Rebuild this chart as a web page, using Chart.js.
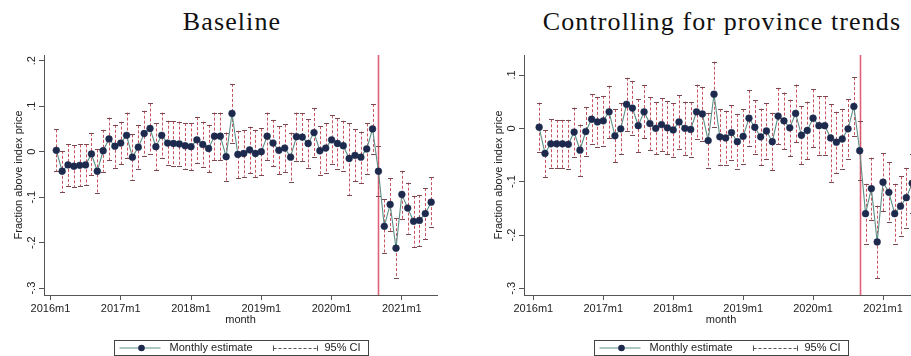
<!DOCTYPE html>
<html>
<head>
<meta charset="utf-8">
<script src="https://cdn.jsdelivr.net/npm/chart.js@4.4.1/dist/chart.umd.min.js"></script>
<style>
  html, body { margin: 0; padding: 0; background: #fff; }
  #wrap { position: relative; width: 911px; height: 356px; overflow: hidden; background: #fff; }
  .panel { position: absolute; top: 0; height: 356px; }
  .panel h2 {
    position: absolute; top: 8px; left: 0; right: 0; margin: 0;
    font: normal 26px "Liberation Serif", "Times New Roman", serif; line-height: 28px;
    letter-spacing: 1.1px;
    text-align: center; color: #111;
  }
  .panel canvas { position: absolute; left: 0; top: 0; }
</style>
</head>
<body>
<div id="wrap">
  <div class="panel" style="left:0;width:464px">
    <h2>Baseline</h2>
    <canvas id="baseChart" width="464" height="356"></canvas>
  </div>
  <div class="panel" style="left:480px;width:484px">
    <h2>Controlling for province trends</h2>
    <canvas id="provChart" width="484" height="356"></canvas>
  </div>
</div>
<script>
// months covered by the estimates
const months = [
  '2016m2','2016m3','2016m4','2016m5','2016m6','2016m7','2016m8','2016m9','2016m10','2016m11','2016m12',
  '2017m1','2017m2','2017m3','2017m4','2017m5','2017m6','2017m7','2017m8','2017m9','2017m10','2017m11','2017m12',
  '2018m1','2018m2','2018m3','2018m4','2018m5','2018m6','2018m7','2018m8','2018m9','2018m10','2018m11','2018m12',
  '2019m1','2019m2','2019m3','2019m4','2019m5','2019m6','2019m7','2019m8','2019m9','2019m10','2019m11','2019m12',
  '2020m1','2020m2','2020m3','2020m4','2020m5','2020m6','2020m7','2020m8','2020m9','2020m10','2020m11','2020m12',
  '2021m1','2021m2','2021m3','2021m4','2021m5','2021m6'
];
const xTickLabels = ['2016m1', '2017m1', '2018m1', '2019m1', '2020m1', '2021m1'];
const treatMonth = '2020m9';

// Baseline
const baseEst = [
  0.003, -0.043, -0.029, -0.032, -0.030, -0.029, -0.005, -0.043, 0.002, 0.028, 0.012,
  0.019, 0.036, -0.012, 0.010, 0.040, 0.051, 0.011, 0.036, 0.019, 0.018, 0.017, 0.013,
  0.011, 0.026, 0.016, 0.007, 0.034, 0.034, -0.011, 0.084, -0.006, -0.004, 0.004, -0.004,
  0.000, 0.034, 0.019, 0.003, 0.008, -0.012, 0.033, 0.032, 0.018, 0.042, 0.002, 0.008,
  0.026, 0.018, 0.013, -0.015, -0.008, -0.012, 0.006, 0.050, -0.043, -0.164, -0.116, -0.212,
  -0.094, -0.124, -0.153, -0.151, -0.136, -0.111
];
const baseLo = [
  -0.043, -0.088, -0.075, -0.078, -0.076, -0.074, -0.051, -0.091, -0.044, -0.019, -0.035,
  -0.028, -0.014, -0.062, -0.038, -0.010, -0.004, -0.040, -0.014, -0.030, -0.031, -0.032, -0.037,
  -0.040, -0.024, -0.034, -0.045, -0.018, -0.018, -0.064, 0.019, -0.058, -0.055, -0.047, -0.056,
  -0.051, -0.018, -0.032, -0.050, -0.044, -0.066, -0.020, -0.021, -0.035, -0.012, -0.052, -0.046,
  -0.028, -0.037, -0.042, -0.095, -0.065, -0.068, -0.050, -0.005, -0.098, -0.223, -0.174, -0.278,
  -0.148, -0.180, -0.209, -0.207, -0.192, -0.166
];
const baseHi = [
  0.049, 0.002, 0.017, 0.014, 0.016, 0.016, 0.041, 0.005, 0.048, 0.075, 0.059,
  0.066, 0.086, 0.038, 0.058, 0.090, 0.106, 0.062, 0.086, 0.068, 0.067, 0.066, 0.063,
  0.062, 0.076, 0.066, 0.059, 0.086, 0.086, 0.042, 0.149, 0.046, 0.047, 0.055, 0.048,
  0.051, 0.086, 0.070, 0.056, 0.060, 0.042, 0.086, 0.085, 0.071, 0.096, 0.056, 0.062,
  0.080, 0.073, 0.068, 0.062, 0.049, 0.044, 0.062, 0.105, 0.012, -0.105, -0.058, -0.146,
  -0.042, -0.068, -0.097, -0.095, -0.080, -0.056
];
const baseYTicks = [-0.3, -0.2, -0.1, 0, 0.1, 0.2];
const baseYLabels = ['-.3', '-.2', '-.1', '0', '.1', '.2'];

// Controlling for province trends
const provEst = [
  0.002, -0.047, -0.029, -0.029, -0.029, -0.030, -0.007, -0.041, -0.006, 0.017, 0.012,
  0.014, 0.031, -0.014, -0.001, 0.045, 0.038, 0.005, 0.031, 0.009, 0.000, 0.007, 0.001,
  -0.003, 0.012, 0.000, -0.002, 0.031, 0.027, -0.023, 0.064, -0.016, -0.018, -0.008, -0.025,
  -0.015, 0.019, 0.002, -0.016, -0.005, -0.025, 0.023, 0.014, 0.001, 0.028, -0.013, -0.004,
  0.019, 0.005, 0.005, -0.018, -0.026, -0.020, -0.001, 0.041, -0.042, -0.160, -0.113, -0.213,
  -0.101, -0.120, -0.160, -0.146, -0.130, -0.103
];
const provLo = [
  -0.044, -0.091, -0.075, -0.074, -0.074, -0.076, -0.053, -0.089, -0.052, -0.030, -0.035,
  -0.033, -0.018, -0.064, -0.049, -0.005, -0.013, -0.045, -0.019, -0.040, -0.049, -0.042, -0.049,
  -0.053, -0.038, -0.050, -0.053, -0.020, -0.024, -0.075, 0.003, -0.068, -0.069, -0.059, -0.077,
  -0.066, -0.033, -0.049, -0.069, -0.057, -0.079, -0.030, -0.039, -0.052, -0.026, -0.067, -0.058,
  -0.035, -0.050, -0.050, -0.100, -0.083, -0.076, -0.057, -0.014, -0.097, -0.216, -0.171, -0.281,
  -0.155, -0.176, -0.216, -0.202, -0.186, -0.158
];
const provHi = [
  0.048, -0.003, 0.017, 0.016, 0.016, 0.016, 0.039, 0.007, 0.040, 0.064, 0.059,
  0.061, 0.080, 0.036, 0.047, 0.095, 0.089, 0.055, 0.081, 0.058, 0.049, 0.056, 0.051,
  0.047, 0.062, 0.050, 0.049, 0.082, 0.078, 0.029, 0.125, 0.036, 0.033, 0.043, 0.027,
  0.036, 0.071, 0.053, 0.037, 0.047, 0.029, 0.076, 0.067, 0.054, 0.082, 0.041, 0.050,
  0.073, 0.060, 0.060, 0.045, 0.031, 0.036, 0.055, 0.096, 0.013, -0.104, -0.055, -0.145,
  -0.047, -0.064, -0.104, -0.090, -0.074, -0.048
];
const provYTicks = [-0.3, -0.2, -0.1, 0, 0.1];
const provYLabels = ['-.3', '-.2', '-.1', '0', '.1'];

const FONT = '"Liberation Sans", Arial, sans-serif';
const TEXT = '#222';
const AXIS = '#555';
const LINE = '#5b8f86';
const MARKER = '#1d2a4e';
const CI = '#c9525f';
const CAP = '#7a4a52';
const TREAT = '#e2607a';

function monthIndex(s) {
    const parts = s.split('m');
    return (Number(parts[0]) - 2016) * 12 + (Number(parts[1]) - 1);
}

const ciPlugin = {
    id: 'ciBars',
    beforeDatasetsDraw(chart, args, opts) {
        const {ctx, scales: {x, y}, chartArea} = chart;
        ctx.save();
        // treatment date
        const tx = Math.round(x.getPixelForValue(monthIndex(treatMonth))) + 0.5;
        ctx.strokeStyle = TREAT;
        ctx.lineWidth = 1.6;
        ctx.beginPath();
        ctx.moveTo(tx, chartArea.top);
        ctx.lineTo(tx, chartArea.bottom);
        ctx.stroke();

        ctx.lineWidth = 1;
        opts.lo.forEach((lo, i) => {
            const px = Math.round(x.getPixelForValue(monthIndex(months[i]))) + 0.5;
            const yLo = y.getPixelForValue(lo);
            const yHi = y.getPixelForValue(opts.hi[i]);
            ctx.strokeStyle = CI;
            ctx.setLineDash([3, 2]);
            ctx.beginPath();
            ctx.moveTo(px, yHi);
            ctx.lineTo(px, yLo);
            ctx.stroke();
            ctx.setLineDash([]);
            ctx.strokeStyle = CAP;
            ctx.beginPath();
            ctx.moveTo(px - 2.5, Math.round(yHi) + 0.5);
            ctx.lineTo(px + 2.5, Math.round(yHi) + 0.5);
            ctx.moveTo(px - 2.5, Math.round(yLo) + 0.5);
            ctx.lineTo(px + 2.5, Math.round(yLo) + 0.5);
            ctx.stroke();
        });
        ctx.restore();
    }
};

const stataPlugin = {
    id: 'stataBits',
    afterDraw(chart, args, opts) {
        const {ctx, scales: {y}, chartArea} = chart;
        ctx.save();
        // rotated y tick labels
        ctx.fillStyle = TEXT;
        ctx.font = '11px ' + FONT;
        ctx.textAlign = 'center';
        ctx.textBaseline = 'middle';
        opts.yTicks.forEach((v, i) => {
            ctx.save();
            ctx.translate(y.right - 12, y.getPixelForValue(v));
            ctx.rotate(-Math.PI / 2);
            ctx.fillText(opts.yLabels[i], 0, 0);
            ctx.restore();
        });

        // legend
        const cx = (chartArea.left + chartArea.right) / 2;
        const bx = Math.round(cx - 127) + 0.5;
        const by = 340.5;
        const midY = 348;
        ctx.strokeStyle = '#444';
        ctx.lineWidth = 1;
        ctx.strokeRect(bx, by, 254, 15);

        ctx.strokeStyle = LINE;
        ctx.beginPath();
        ctx.moveTo(bx + 5, midY);
        ctx.lineTo(bx + 46, midY);
        ctx.stroke();
        ctx.fillStyle = MARKER;
        ctx.beginPath();
        ctx.arc(bx + 27, midY, 3.3, 0, Math.PI * 2);
        ctx.fill();

        ctx.strokeStyle = '#555';
        ctx.setLineDash([3, 2]);
        ctx.beginPath();
        ctx.moveTo(bx + 159, midY + 0.5);
        ctx.lineTo(bx + 203, midY + 0.5);
        ctx.stroke();
        ctx.setLineDash([]);
        ctx.beginPath();
        ctx.moveTo(bx + 159, midY - 2.5);
        ctx.lineTo(bx + 159, midY + 3);
        ctx.moveTo(bx + 203, midY - 2.5);
        ctx.lineTo(bx + 203, midY + 3);
        ctx.stroke();

        ctx.fillStyle = TEXT;
        ctx.textAlign = 'left';
        ctx.textBaseline = 'middle';
        ctx.fillText('Monthly estimate', bx + 55, midY);
        ctx.fillText('95% CI', bx + 210, midY);
        ctx.restore();
    }
};

function makeChart(id, est, lo, hi, yTicks, yLabels, yMin, yMax, xMin, padRight) {
    const ctx = document.getElementById(id).getContext('2d');
    return new Chart(ctx, {
        type: 'line',
        data: {
            datasets: [{
                label: 'Monthly estimate',
                data: est.map((v, i) => ({x: monthIndex(months[i]), y: v})),
                borderColor: LINE,
                borderWidth: 1.1,
                pointRadius: 3.4,
                pointBackgroundColor: MARKER,
                pointBorderColor: MARKER,
                pointBorderWidth: 0.5,
                tension: 0
            }]
        },
        options: {
            responsive: false,
            animation: false,
            layout: {
                padding: {top: 55, right: padRight, bottom: 29, left: 0}
            },
            plugins: {
                legend: {display: false},
                tooltip: {enabled: false},
                ciBars: {lo: lo, hi: hi},
                stataBits: {yTicks: yTicks, yLabels: yLabels}
            },
            scales: {
                x: {
                    type: 'linear',
                    min: xMin,
                    max: 66,
                    afterBuildTicks: (scale) => {
                        scale.ticks = xTickLabels.map(s => ({value: monthIndex(s)}));
                    },
                    afterFit: (scale) => { scale.height = 32; },
                    ticks: {
                        autoSkip: false,
                        maxRotation: 0,
                        padding: 2,
                        color: TEXT,
                        font: {family: FONT, size: 11},
                        callback: (v) => xTickLabels.find(s => monthIndex(s) === v) || ''
                    },
                    grid: {display: true, drawOnChartArea: false, drawTicks: true, tickLength: 5, color: AXIS},
                    border: {display: true, color: AXIS, width: 1},
                    title: {
                        display: true,
                        text: 'month',
                        color: TEXT,
                        font: {family: FONT, size: 11},
                        padding: {top: 0, bottom: 0}
                    }
                },
                y: {
                    min: yMin,
                    max: yMax,
                    afterBuildTicks: (scale) => {
                        scale.ticks = yTicks.map(v => ({value: v}));
                    },
                    afterFit: (scale) => { scale.width = 44; },
                    ticks: {display: false},
                    grid: {display: true, drawOnChartArea: false, drawTicks: true, tickLength: 5, color: AXIS},
                    border: {display: true, color: AXIS, width: 1},
                    title: {
                        display: true,
                        text: 'Fraction above index price',
                        color: TEXT,
                        font: {family: FONT, size: 11},
                        padding: {top: 12, bottom: 0}
                    }
                }
            }
        },
        plugins: [ciPlugin, stataPlugin]
    });
}

makeChart('baseChart', baseEst, baseLo, baseHi, baseYTicks, baseYLabels, -0.315, 0.2125, -1.1, 27);
makeChart('provChart', provEst, provLo, provHi, provYTicks, provYLabels, -0.3125, 0.1375, -1.6, 46);
</script>
</body>
</html>
